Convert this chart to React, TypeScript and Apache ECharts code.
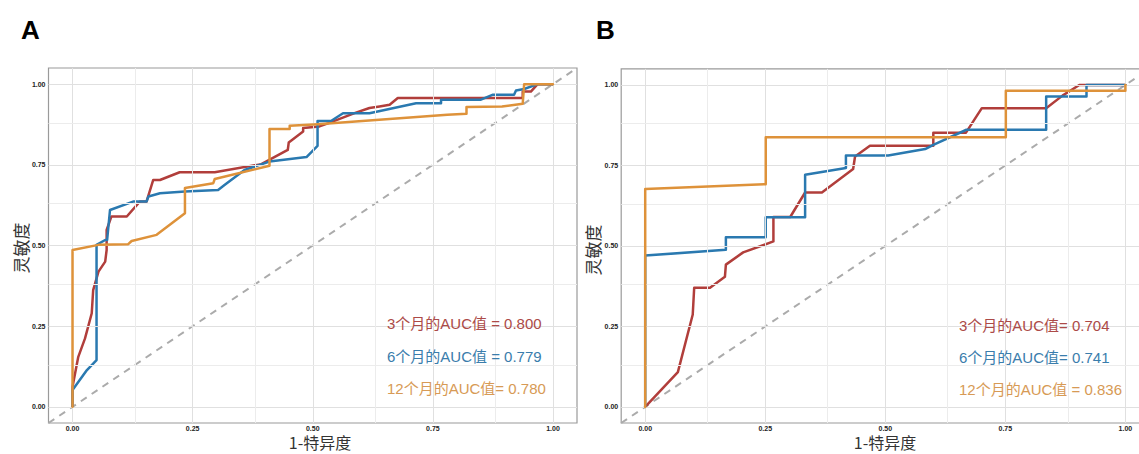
import React, { useEffect, useRef } from "react";
import * as echarts from "echarts";

// ---------- data ----------
const tickValues = [0, 0.25, 0.5, 0.75, 1];
const minorValues = [0.125, 0.375, 0.625, 0.875];
const diagonal = [[-0.05, -0.05], [1.05, 1.05]];

const rocA3m = [[0,0],[0,0.062],[0.002,0.078],[0.012,0.155],[0.026,0.212],[0.04,0.29],[0.043,0.362],[0.054,0.419],[0.068,0.45],[0.071,0.486],[0.071,0.548],[0.081,0.59],[0.113,0.59],[0.14,0.636],[0.154,0.636],[0.168,0.703],[0.182,0.703],[0.223,0.727],[0.296,0.727],[0.393,0.752],[0.448,0.796],[0.45,0.819],[0.48,0.853],[0.48,0.864],[0.514,0.869],[0.533,0.879],[0.587,0.91],[0.618,0.926],[0.639,0.931],[0.66,0.936],[0.677,0.957],[0.937,0.957],[0.937,0.977],[0.954,0.977],[0.968,1],[1,1]];
const rocA6m = [[0,0],[0,0.052],[0.03,0.114],[0.05,0.145],[0.05,0.502],[0.068,0.517],[0.072,0.517],[0.078,0.61],[0.126,0.636],[0.154,0.636],[0.158,0.652],[0.182,0.662],[0.234,0.667],[0.303,0.672],[0.317,0.688],[0.358,0.734],[0.41,0.76],[0.487,0.774],[0.51,0.809],[0.51,0.886],[0.538,0.886],[0.563,0.91],[0.618,0.91],[0.715,0.941],[0.767,0.941],[0.767,0.952],[0.85,0.952],[0.874,0.967],[0.919,0.967],[0.923,0.98],[0.94,0.985],[0.968,1],[1,1]];
const rocA12m = [[0,0],[0,0.486],[0.054,0.502],[0.116,0.504],[0.123,0.514],[0.175,0.533],[0.234,0.6],[0.234,0.678],[0.293,0.693],[0.296,0.706],[0.41,0.747],[0.41,0.861],[0.452,0.861],[0.452,0.871],[0.511,0.876],[0.78,0.905],[0.82,0.908],[0.82,0.929],[0.894,0.931],[0.937,0.939],[0.94,1],[1,1]];

const rocB3m = [[0,0],[0.068,0.108],[0.099,0.287],[0.102,0.37],[0.135,0.37],[0.166,0.404],[0.168,0.442],[0.204,0.48],[0.267,0.514],[0.267,0.59],[0.302,0.59],[0.333,0.666],[0.368,0.666],[0.433,0.739],[0.437,0.778],[0.468,0.811],[0.6,0.811],[0.6,0.852],[0.668,0.852],[0.701,0.928],[0.835,0.928],[0.869,0.967],[0.904,1],[1,1]];
const rocB6m = [[0,0],[0,0.47],[0.168,0.488],[0.168,0.527],[0.251,0.527],[0.251,0.589],[0.333,0.589],[0.333,0.721],[0.418,0.742],[0.418,0.781],[0.506,0.781],[0.583,0.801],[0.6,0.814],[0.669,0.861],[0.835,0.861],[0.835,0.964],[0.919,0.964],[0.919,1],[1,1]];
const rocB12m = [[0,0],[0,0.677],[0.251,0.692],[0.251,0.838],[0.751,0.838],[0.751,0.982],[1,0.982],[1,1]];

const legendA = ["3个月的AUC值 = 0.800", "6个月的AUC值 = 0.779", "12个月的AUC值= 0.780"];
const legendB = ["3个月的AUC值= 0.704", "6个月的AUC值= 0.741", "12个月的AUC值 = 0.836"];

const panelLabels = ["A", "B"];
const xTitle = "1-特异度";
const yTitle = "灵敏度";

// ---------- styles ----------
const lineColors = ["#B13E3B", "#2A79B0", "#DE923A"];
const textColors = ["#AC4A47", "#3A7DAC", "#D79A55"];
const latin = "'Liberation Sans', Arial, 'Noto Sans CJK SC', sans-serif";
const cjk = "'Noto Sans CJK SC', 'Liberation Sans', sans-serif";

const grids = [
  { left: 48.5, top: 68, width: 528.5, height: 355 },
  { left: 621.2, top: 68.9, width: 528.2, height: 354.1 },
];

function makeAxis(type: "x" | "y", gridIndex: number) {
  return {
    type: "value",
    gridIndex,
    min: -0.05,
    max: 1.05,
    axisLine: { show: false },
    splitLine: { show: false },
    axisTick: {
      show: true,
      customValues: tickValues,
      length: 3,
      lineStyle: { color: "#333", width: 1 },
    },
    axisLabel: {
      show: true,
      customValues: tickValues,
      formatter: (v: number) => v.toFixed(2),
      fontSize: 7,
      fontWeight: "bold",
      fontFamily: latin,
      color: "#222",
      margin: type === "x" ? 2 : 3,
      hideOverlap: false,
      showMinLabel: true,
      showMaxLabel: true,
    },
  };
}

function gridMarkLines() {
  const major = { color: "#e0e0e0", width: 1, type: "solid" };
  const minor = { color: "#ececec", width: 1, type: "solid" };
  const data: any[] = [];
  tickValues.forEach((v) => {
    data.push({ xAxis: v, lineStyle: major });
    data.push({ yAxis: v, lineStyle: major });
  });
  minorValues.forEach((v) => {
    data.push({ xAxis: v, lineStyle: minor });
    data.push({ yAxis: v, lineStyle: minor });
  });
  return {
    silent: true,
    symbol: ["none", "none"],
    label: { show: false },
    lineStyle: { type: "solid" },
    emphasis: { disabled: true },
    animation: false,
    data,
  };
}

function panelSeries(gridIndex: number, curves: number[][][]) {
  const out: any[] = [
    {
      type: "line",
      xAxisIndex: gridIndex,
      yAxisIndex: gridIndex,
      data: diagonal,
      showSymbol: false,
      symbol: "none",
      silent: true,
      z: 1,
      lineStyle: { color: "#ababab", width: 2, type: [7, 6] },
      markLine: gridMarkLines(),
    },
  ];
  curves.forEach((c, i) => {
    out.push({
      type: "line",
      xAxisIndex: gridIndex,
      yAxisIndex: gridIndex,
      data: c,
      showSymbol: false,
      symbol: "none",
      silent: true,
      z: 3 + i,
      lineStyle: { color: lineColors[i], width: 2.5, cap: "round", join: "round" },
    });
  });
  return out;
}

function legendTexts(items: string[], x: number, ys: number[]) {
  return items.map((t, i) => ({
    type: "text",
    x,
    y: ys[i],
    z: 10,
    style: {
      text: t,
      fill: textColors[i],
      font: `15px ${latin}`,
      textAlign: "left",
      textVerticalAlign: "middle",
    },
  }));
}

export default function App() {
  const ref = useRef<HTMLDivElement>(null);
  useEffect(() => {
    if (!ref.current) return;
    const chart = echarts.init(ref.current, null, { renderer: "svg" });
    const option: any = {
      animation: false,
      backgroundColor: "#ffffff",
      grid: grids.map((g) => ({
        ...g,
        show: true,
        borderColor: "#9a9a9a",
        borderWidth: 1.2,
        backgroundColor: "transparent",
        containLabel: false,
        outerBoundsMode: "none",
      })),
      xAxis: [makeAxis("x", 0), makeAxis("x", 1)],
      yAxis: [makeAxis("y", 0), makeAxis("y", 1)],
      series: [
        ...panelSeries(0, [rocA3m, rocA6m, rocA12m]),
        ...panelSeries(1, [rocB3m, rocB6m, rocB12m]),
      ],
      graphic: [
        {
          type: "text",
          x: 21,
          y: 30,
          style: { text: panelLabels[0], font: `bold 26px ${latin}`, fill: "#000", textVerticalAlign: "middle" },
        },
        {
          type: "text",
          x: 596,
          y: 30,
          style: { text: panelLabels[1], font: `bold 26px ${latin}`, fill: "#000", textVerticalAlign: "middle" },
        },
        {
          type: "text",
          x: 320,
          y: 450,
          style: { text: xTitle, font: `16px ${cjk}`, fill: "#333", textAlign: "center", textVerticalAlign: "bottom" },
        },
        {
          type: "text",
          x: 885,
          y: 450,
          style: { text: xTitle, font: `16px ${cjk}`, fill: "#333", textAlign: "center", textVerticalAlign: "bottom" },
        },
        {
          type: "text",
          x: 20,
          y: 248,
          rotation: Math.PI / 2,
          style: { text: yTitle, font: `17px ${cjk}`, fill: "#333", textAlign: "center", textVerticalAlign: "middle" },
        },
        {
          type: "text",
          x: 592,
          y: 250,
          rotation: Math.PI / 2,
          style: { text: yTitle, font: `17px ${cjk}`, fill: "#333", textAlign: "center", textVerticalAlign: "middle" },
        },
        ...legendTexts(legendA, 387, [323, 356, 388]),
        ...legendTexts(legendB, 959, [325, 357, 389]),
      ],
    };
    chart.setOption(option);
    return () => chart.dispose();
  }, []);
  return (
    <div
      ref={ref}
      style={{ position: "fixed", left: 0, top: 0, width: 1139, height: 454, background: "#fff" }}
    />
  );
}
